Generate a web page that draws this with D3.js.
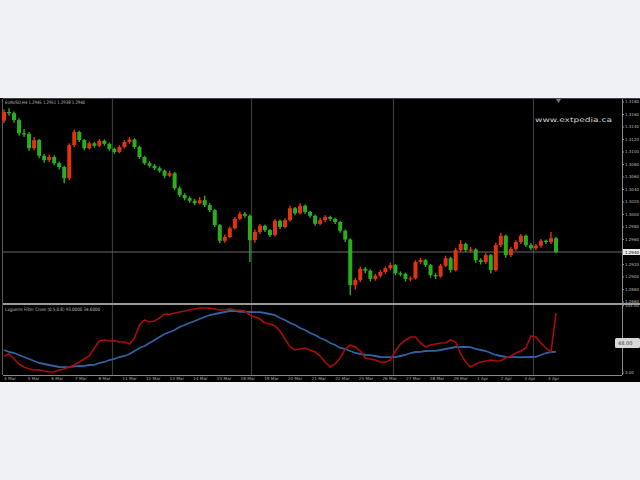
<!DOCTYPE html>
<html><head><meta charset="utf-8">
<script src="https://cdn.jsdelivr.net/npm/d3@7"></script>
<style>html,body{margin:0;padding:0;background:#eff1f4;}svg{display:block;}</style>
</head><body>
<script>
// ---------- data ----------
const openP = [1.3150,1.3164,1.3162,1.3151,1.3130,1.3129,1.3106,1.3119,1.3094,1.3087,
 1.3092,1.3082,1.3076,1.3058,1.3111,1.3132,1.3119,1.3106,1.3114,1.3110,
 1.3118,1.3113,1.3105,1.3100,1.3108,1.3116,1.3120,1.3108,1.3092,1.3082,
 1.3078,1.3074,1.3070,1.3062,1.3066,1.3042,1.3031,1.3026,1.3022,1.3018,
 1.3023,1.3015,1.3007,1.2983,1.2958,1.2964,1.2978,1.2993,1.3001,1.2998,
 1.2959,1.2972,1.2982,1.2975,1.2967,1.2990,1.2980,1.2991,1.3010,1.3002,
 1.3014,1.3004,1.2998,1.2985,1.2991,1.2996,1.2993,1.2988,1.2974,1.2960,
 1.2887,1.2895,1.2913,1.2910,1.2897,1.2902,1.2908,1.2914,1.2919,1.2906,
 1.2905,1.2897,1.2898,1.2924,1.2927,1.2919,1.2903,1.2901,1.2918,1.2930,
 1.2911,1.2943,1.2953,1.2943,1.2944,1.2927,1.2924,1.2935,1.2911,1.2951,
 1.2966,1.2935,1.2945,1.2956,1.2966,1.2951,1.2946,1.2950,1.2958,1.2956,
 1.2962];
const highP = [1.3168,1.3170,1.3165,1.3154,1.3137,1.3132,1.3124,1.3121,1.3097,1.3096,
 1.3095,1.3085,1.3078,1.3114,1.3136,1.3134,1.3121,1.3117,1.3116,1.3121,
 1.3120,1.3115,1.3107,1.3111,1.3119,1.3124,1.3122,1.3110,1.3094,1.3085,
 1.3081,1.3077,1.3072,1.3070,1.3068,1.3045,1.3034,1.3029,1.3025,1.3028,
 1.3030,1.3018,1.3009,1.2985,1.2968,1.2981,1.2996,1.3005,1.3004,1.3000,
 1.2976,1.2985,1.2984,1.2977,1.2993,1.2992,1.2994,1.3014,1.3012,1.3018,
 1.3016,1.3006,1.3000,1.2995,1.2999,1.2998,1.2995,1.2990,1.2976,1.2962,
 1.2899,1.2917,1.2916,1.2912,1.2905,1.2911,1.2917,1.2923,1.2921,1.2909,
 1.2907,1.2901,1.2927,1.2931,1.2929,1.2921,1.2906,1.2921,1.2934,1.2932,
 1.2947,1.2959,1.2955,1.2948,1.2946,1.2930,1.2938,1.2937,1.2955,1.2971,
 1.2968,1.2948,1.2959,1.2969,1.2968,1.2954,1.2953,1.2961,1.2960,1.2972,
 1.2964];
const lowP = [1.3146,1.3158,1.3147,1.3126,1.3124,1.3102,1.3103,1.3090,1.3083,1.3084,
 1.3079,1.3072,1.3050,1.3055,1.3108,1.3116,1.3103,1.3104,1.3107,1.3108,
 1.3110,1.3102,1.3097,1.3098,1.3106,1.3113,1.3105,1.3089,1.3079,1.3075,
 1.3071,1.3067,1.3058,1.3060,1.3039,1.3028,1.3023,1.3019,1.3015,1.3016,
 1.3012,1.3004,1.2980,1.2954,1.2955,1.2962,1.2976,1.2991,1.2995,1.2924,
 1.2955,1.2969,1.2972,1.2964,1.2965,1.2977,1.2978,1.2989,1.2999,1.3000,
 1.3001,1.2995,1.2982,1.2983,1.2988,1.2990,1.2985,1.2971,1.2956,1.2871,
 1.2880,1.2892,1.2906,1.2893,1.2894,1.2899,1.2905,1.2911,1.2903,1.2901,
 1.2893,1.2893,1.2896,1.2921,1.2916,1.2899,1.2897,1.2899,1.2916,1.2907,
 1.2909,1.2940,1.2940,1.2939,1.2923,1.2920,1.2921,1.2906,1.2909,1.2948,
 1.2931,1.2932,1.2942,1.2953,1.2948,1.2943,1.2943,1.2947,1.2953,1.2953,
 1.2938];
const closeP = [1.3164,1.3162,1.3151,1.3130,1.3129,1.3106,1.3119,1.3094,1.3087,1.3092,
 1.3082,1.3076,1.3058,1.3111,1.3132,1.3119,1.3106,1.3114,1.3110,1.3118,
 1.3113,1.3105,1.3100,1.3108,1.3116,1.3120,1.3108,1.3092,1.3082,1.3078,
 1.3074,1.3070,1.3062,1.3066,1.3042,1.3031,1.3026,1.3022,1.3018,1.3023,
 1.3015,1.3007,1.2983,1.2958,1.2964,1.2978,1.2993,1.3001,1.2998,1.2959,
 1.2972,1.2982,1.2975,1.2967,1.2990,1.2980,1.2991,1.3010,1.3002,1.3014,
 1.3004,1.2998,1.2985,1.2991,1.2996,1.2993,1.2988,1.2974,1.2960,1.2887,
 1.2895,1.2913,1.2910,1.2897,1.2902,1.2908,1.2914,1.2919,1.2906,1.2905,
 1.2897,1.2898,1.2924,1.2927,1.2919,1.2903,1.2901,1.2918,1.2930,1.2911,
 1.2943,1.2953,1.2943,1.2944,1.2927,1.2924,1.2935,1.2911,1.2951,1.2966,
 1.2935,1.2945,1.2956,1.2966,1.2951,1.2946,1.2950,1.2958,1.2956,1.2962,
 1.2940];
const redLine = [28.5,31.5,24,16.5,12,9,7.5,7.8,6,4.5,
 4.8,7.5,9,12,15,19.5,24,28.5,40.5,51,
 52.5,51,51.3,49.5,49.8,46.5,55.5,75,82.5,79.5,
 81,85.5,91.5,91.2,93,94.5,96,97.5,99,100.5,
 100.5,100.3,99,97.5,97.8,99,97.5,97.2,96,90,
 87,84,78,76.5,73.5,66,54,42,37.5,39,
 40.5,37.5,34.5,28.5,19.5,12,16.5,25.5,39,45,
 42,36,25.5,24,22.5,19.5,19.2,22.5,36,46.5,
 52.5,57,57,48,42,45,46.5,48,48.3,52.5,
 49.5,31.5,19.5,12,16.5,19.5,21,22.5,21,21.3,
 25.5,28.5,33,36,40.5,58.5,57,48,40.5,34.5,
 93];
const blueLine = [37.5,34.5,33,30,27,24,21,18,16.5,15,
 13.5,12,11.8,11.7,12.8,13.5,13.6,15,15.2,18,
 19.5,22.5,24,27,28.5,31.5,36,40.5,43.5,48,
 52.5,57,61.5,64.5,67.5,72,75,78,81,84,
 87,90,91.5,93,94.5,96,96.2,94.8,94.6,94.5,
 94.4,94.2,93,91.5,90,85.5,82.5,78,75,70.5,
 67.5,63,60,55.5,52.5,48,45,40.5,39,36,
 33,31.5,30,29.8,28.5,27,26.8,26.7,26.9,28.5,
 30,33,34.5,34.6,36,36.1,36.2,37.5,39,40.5,
 42,42.1,42,41.8,39,37.5,36,33,30,28.5,
 27,26.8,26.7,26.6,26.8,27,27.2,30,33,34.5,
 34.6];
const priceTicks = [1.3180,1.3160,1.3140,1.3120,1.3100,1.3080,1.3060,1.3040,1.3020,1.3000,1.2980,1.2960,1.2920,1.2900,1.2880,1.2860];
const bidPrice = 1.2940;
const indTicks = [104.0, 3.0];
const indLevel = 48.0;
const dateLabels = ["4 Mar","5 Mar","6 Mar","7 Mar","8 Mar","11 Mar","12 Mar","13 Mar","14 Mar","15 Mar","18 Mar","19 Mar","20 Mar","21 Mar","22 Mar","25 Mar","26 Mar","27 Mar","28 Mar","29 Mar","1 Apr","2 Apr","3 Apr","4 Apr"];
const gridIdx = [21.5, 49.2, 77.5, 105.4];
const titleText = "EURUSD,H4  1.2945 1.2951 1.2938 1.2940";
const indTitle = "Laguerre Filter Cross (0.5,0.8) 93.0000 34.6000";
const watermark = "www.extpedia.ca";

// ---------- layout ----------
const W = 640, H = 480;
const L = 3, R = 622, mainTop = 99, mainBot = 302, indTop = 306, indBot = 375;
const n = closeP.length;

const svg = d3.select("body").append("svg").attr("width", W).attr("height", H);
svg.append("rect").attr("x",0).attr("y",98).attr("width",W).attr("height",284).attr("fill","#000");

const x = d3.scaleLinear().domain([0, n-1]).range([4, 556]);
const y = d3.scaleLinear().domain([1.2860, 1.31864]).range([mainBot, 98]);
const yi = d3.scaleLinear().domain([0, 105]).range([indBot, indTop-1]);

// grid
svg.append("g").selectAll("line").data(gridIdx).join("line")
  .attr("x1", d=>Math.round(x(d))+0.5).attr("x2", d=>Math.round(x(d))+0.5)
  .attr("y1", mainTop).attr("y2", indBot)
  .attr("stroke","#3a3a3a").attr("stroke-width",1.2);

// borders
const bc = "#5a5a5a";
svg.append("line").attr("x1",L-0.5).attr("x2",L-0.5).attr("y1",mainTop).attr("y2",indBot).attr("stroke",bc);
svg.append("line").attr("x1",R+0.5).attr("x2",R+0.5).attr("y1",mainTop).attr("y2",indBot).attr("stroke","#8a8a8a");
svg.append("line").attr("x1",L).attr("x2",W).attr("y1",mainTop-0.5).attr("y2",mainTop-0.5).attr("stroke","#444");
svg.append("rect").attr("x",L).attr("y",303).attr("width",W-L).attr("height",2).attr("fill","#9a9a9a");
svg.append("line").attr("x1",L).attr("x2",R).attr("y1",indBot+0.5).attr("y2",indBot+0.5).attr("stroke","#8a8a8a");

// bid line
svg.append("line").attr("x1",L).attr("x2",R).attr("y1",y(bidPrice)).attr("y2",y(bidPrice))
  .attr("stroke","#6a6a6a").attr("stroke-width",1);

// candles
const idx = d3.range(n);
const upC = "#e0340f", dnC = "#2aae1e";
const col = i => closeP[i] >= openP[i] ? upC : dnC;
const cg = svg.append("g");
cg.selectAll("line").data(idx).join("line")
  .attr("x1", i=>x(i)).attr("x2", i=>x(i))
  .attr("y1", i=>y(highP[i])).attr("y2", i=>y(lowP[i]))
  .attr("stroke", col).attr("stroke-width",1.4);
cg.selectAll("rect").data(idx).join("rect")
  .attr("x", i=>x(i)-2).attr("width",4)
  .attr("y", i=>y(Math.max(openP[i],closeP[i])))
  .attr("height", i=>Math.max(1.2, Math.abs(y(openP[i])-y(closeP[i]))))
  .attr("fill", col);

// indicator lines
const ln = d3.line().x((d,i)=>x(i)).y(d=>yi(d));
svg.append("path").attr("d", ln(blueLine)).attr("fill","none").attr("stroke","#2e62a0").attr("stroke-width",1.8);
svg.append("path").attr("d", ln(redLine)).attr("fill","none").attr("stroke","#a80c0c").attr("stroke-width",1.6);

// right axis
const fs = "DejaVu Sans, sans-serif";
const ax = svg.append("g");
ax.selectAll("line").data(priceTicks).join("line")
  .attr("x1",R).attr("x2",R+2).attr("y1",d=>y(d)).attr("y2",d=>y(d)).attr("stroke","#8a8a8a");
ax.selectAll("text").data(priceTicks).join("text")
  .attr("x",R+3).attr("y",d=>y(d)+1.4).attr("font-size",4).attr("font-family",fs)
  .attr("fill","#bdbdbd").text(d=>d.toFixed(4));
// bid box
svg.append("rect").attr("x",R+1).attr("y",y(bidPrice)-3).attr("width",W-R-1).attr("height",6).attr("fill","#e6e6e6");
svg.append("text").attr("x",R+3).attr("y",y(bidPrice)+1.5).attr("font-size",4).attr("font-family",fs)
  .attr("fill","#000").text(bidPrice.toFixed(4));
// indicator axis
const ia = svg.append("g");
ia.selectAll("line").data(indTicks).join("line")
  .attr("x1",R).attr("x2",R+2).attr("y1",d=>yi(d)).attr("y2",d=>yi(d)).attr("stroke","#8a8a8a");
ia.selectAll("text").data(indTicks).join("text")
  .attr("x",R+3).attr("y",d=>yi(d)+1.4).attr("font-size",4).attr("font-family",fs)
  .attr("fill","#bdbdbd").text(d=>d.toFixed(2));
svg.append("rect").attr("x",615).attr("y",yi(indLevel)-5).attr("width",25).attr("height",10).attr("rx",1.5).attr("fill","#d8d8d8");
svg.append("text").attr("x",618).attr("y",yi(indLevel)+1.8).attr("font-size",5).attr("font-family",fs)
  .attr("fill","#333").text(indLevel.toFixed(2));

// date axis
const xd = d3.scalePoint().domain(dateLabels).range([4, 548]);
svg.append("g").selectAll("text").data(dateLabels).join("text")
  .attr("x", d=>xd(d)).attr("y", 380).attr("font-size",4.2).attr("font-family",fs)
  .attr("fill","#a8a8a8").text(d=>d);

// texts
svg.append("text").attr("x",5).attr("y",103.5).attr("font-size",4.6).attr("font-family",fs)
  .attr("fill","#bcbcbc").attr("textLength",80).attr("lengthAdjust","spacingAndGlyphs").text(titleText);
svg.append("text").attr("x",5).attr("y",310.5).attr("font-size",4.6).attr("font-family",fs)
  .attr("fill","#bcbcbc").attr("textLength",95).attr("lengthAdjust","spacingAndGlyphs").text(indTitle);
svg.append("text").attr("x",535).attr("y",121.5).attr("font-size",6.5).attr("font-family",fs)
  .attr("fill","#d4d4d4").attr("textLength",77).attr("lengthAdjust","spacingAndGlyphs").text(watermark);
// shift marker
svg.append("path").attr("d","M556,99 L561,99 L558.5,103 Z").attr("fill","#777");
</script>
</body></html>
